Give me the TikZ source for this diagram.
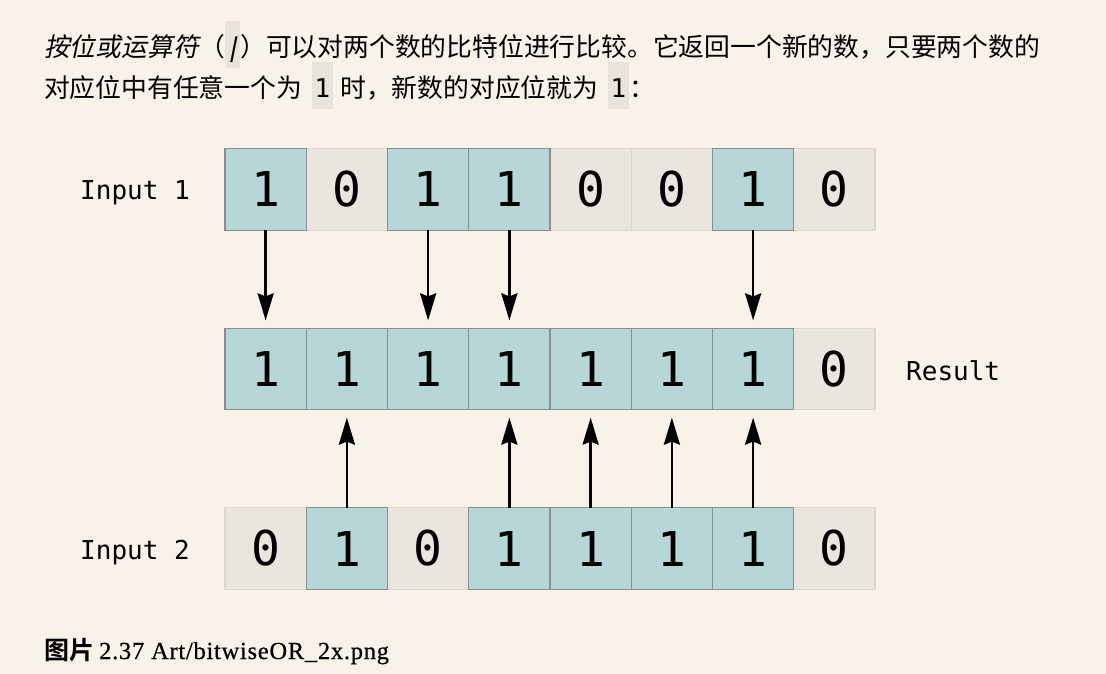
\documentclass[tikz,border=0pt]{standalone}
\usepackage{fontspec}
\setmainfont{Liberation Serif}
\setmonofont{DejaVu Sans Mono}
\newfontfamily\cjk[BoldFont={Noto Sans CJK SC Bold}]{Noto Sans CJK SC}
\newfontfamily\cjkslant[FakeSlant=0.2]{Noto Sans CJK SC}
\newfontfamily\monoslant[FakeSlant=0.2]{DejaVu Sans Mono}
\newfontfamily\capserif[LetterSpace=3,FakeBold=0.6]{Liberation Serif}
\usetikzlibrary{arrows.meta,positioning}

\definecolor{pagebg}{HTML}{F9F2E8}
\definecolor{fill1}{HTML}{B6D6D7}
\definecolor{line1}{HTML}{8B8E8D}
\definecolor{fill0}{HTML}{EAE6DE}
\definecolor{line0}{HTML}{DCD7CE}
\definecolor{codebg}{HTML}{E8E4DA}

% inline code with a grey back, as in the text above the picture
\newcommand{\codebox}[2][3pt]{{\setlength{\fboxsep}{0pt}\colorbox{codebg}{\rule[-11.5pt]{0pt}{47pt}\hspace{#1}#2\hspace{#1}}}}

\tikzset{
  bit/.style={minimum size=81.25pt, inner sep=0pt, outer sep=0pt, line width=1.2pt,
    font=\fontsize{48}{48}\ttfamily},
  edge1/.style={draw=line1, line width=1.2pt},
  rowlabel/.style={anchor=base west, inner sep=0pt, font=\fontsize{26}{26}\ttfamily},
  textline/.style={anchor=base west, inner sep=0pt, font=\fontsize{25.8}{30}\cjk},
  orarrow/.style={line width=2.6pt, -{Stealth[length=27pt,width=16pt,inset=3pt]}, shorten >=8pt},
}

\begin{document}
\begin{tikzpicture}[x=1pt,y=-1pt]
    \useasboundingbox[fill=pagebg] (0,0) rectangle (1106,674);
    %
    \node[textline] (line1) at (44,57) {{\cjkslant 按位或运算符}（\codebox[0pt]{\monoslant|}）可以对两个数的比特位进行比较。它返回一个新的数，只要两个数的};
    \node[textline] (line2) at (44,97.5) {对应位中有任意一个为\hspace{9.5pt}\codebox{\ttfamily 1}\hspace{7pt}时，新数的对应位就为\hspace{9.5pt}\codebox{\ttfamily 1}：};
    %
    % the three rows of bits
    \foreach \v [count=\i] in {1,0,1,1,0,0,1,0}
      \node[bit, fill=fill\v, draw=line\v] (a\i) at ({225+81.25*(\i-0.5)},189.5) {\v};
    \foreach \v [count=\i] in {1,1,1,1,1,1,1,0}
      \node[bit, fill=fill\v, draw=line\v] (r\i) at ({225+81.25*(\i-0.5)},369) {\v};
    \foreach \v [count=\i] in {0,1,0,1,1,1,1,0}
      \node[bit, fill=fill\v, draw=line\v] (b\i) at ({225+81.25*(\i-0.5)},548.5) {\v};
    %
    \node[rowlabel] (in1) at (80,200) {Input 1};
    \node[rowlabel] (res) at (906,380) {Result};
    \node[rowlabel] (in2) at (80,559) {Input 2};
    %
    % dark edges of the ones on top, then the arrows
    \foreach \i in {1,...,7}
      \draw[edge1] (r\i.north west) rectangle (r\i.south east);
    \foreach \i in {1,3,4,7} {
      \draw[edge1] (a\i.north west) rectangle (a\i.south east);
      \draw[orarrow] (a\i) -- (r\i);
    }
    \foreach \i in {2,4,5,6,7} {
      \draw[edge1] (b\i.north west) rectangle (b\i.south east);
      \draw[orarrow] (b\i) -- (r\i);
    }
    %
    \node[anchor=base west, inner sep=0pt] (caption) at (44,659)
      {{\fontsize{25}{25}\cjk\bfseries 图片}\hspace{5pt}{\fontsize{24.5}{24.5}\capserif 2.37 Art/bitwiseOR\_2x.png}};
\end{tikzpicture}
\end{document}
